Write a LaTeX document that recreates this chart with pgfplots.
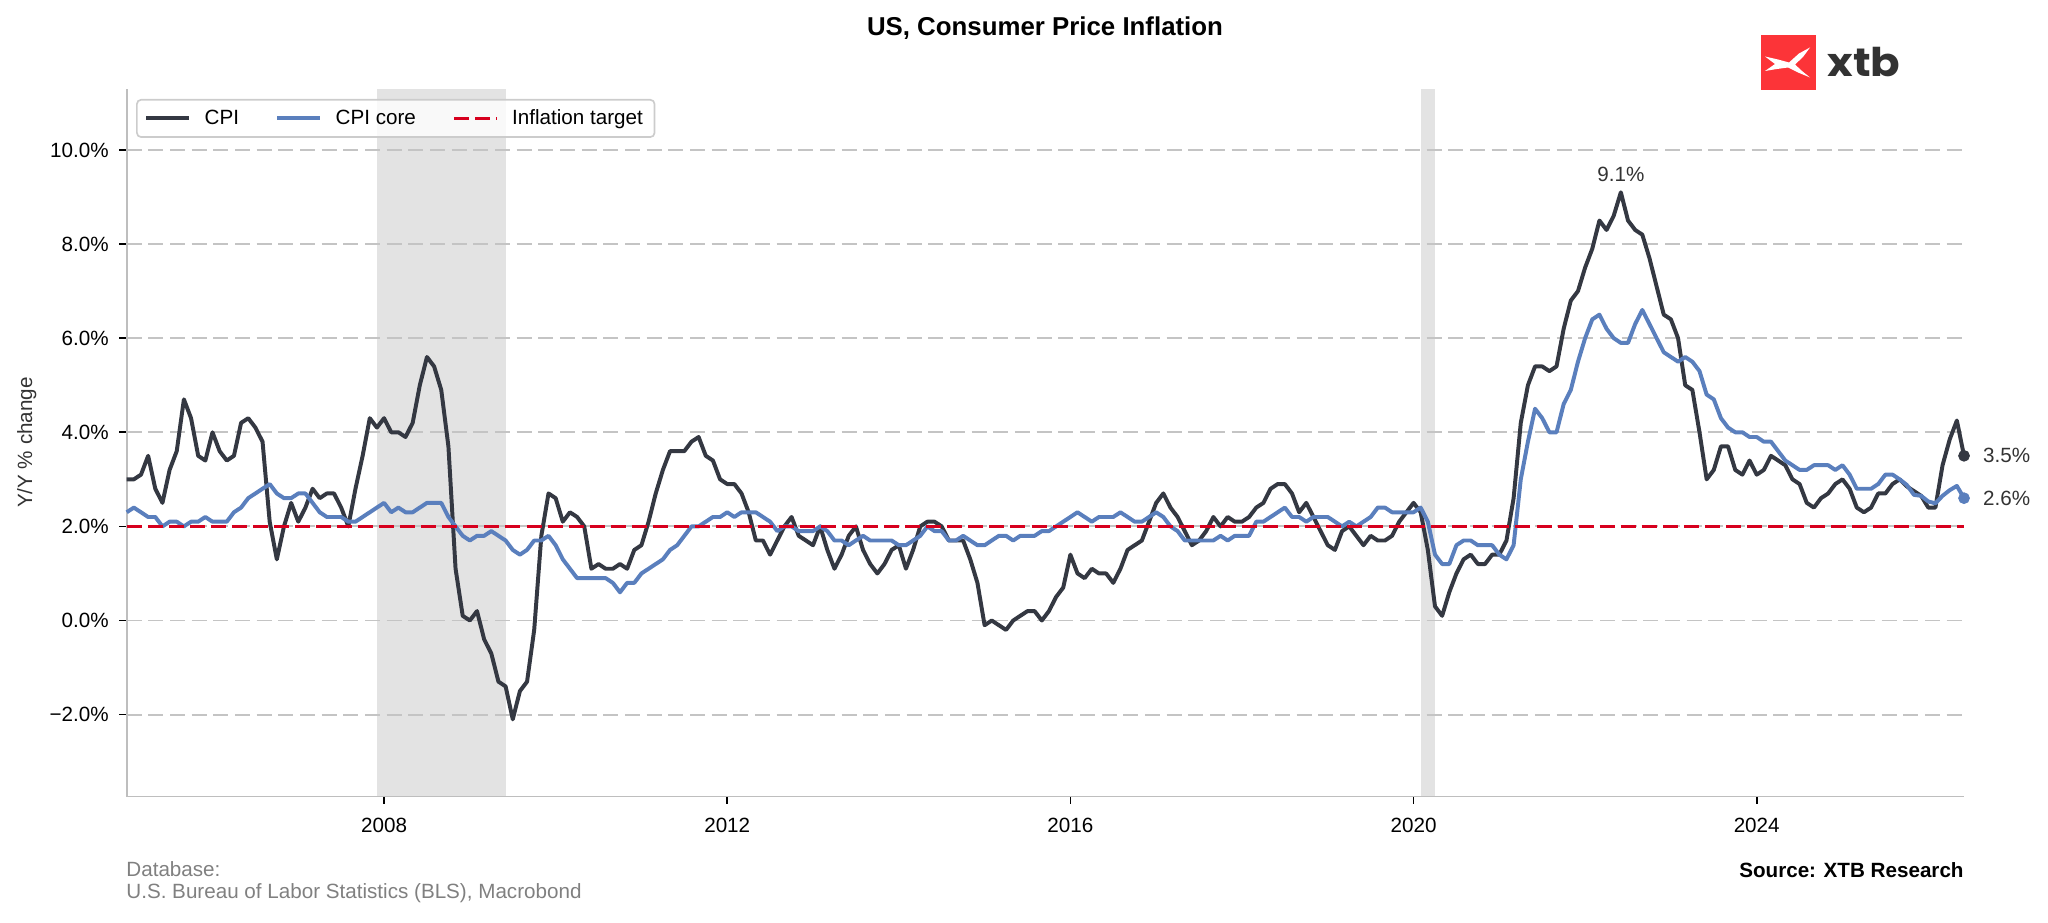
\documentclass[border=0pt]{standalone}
\usepackage{fontspec}
\setmainfont{Liberation Sans}
\newfontfamily\logofont{Poppins}
\usepackage{pgfplots}
\usepackage{pgfplotstable}
\pgfplotsset{compat=1.18}
\pgfplotsset{shortlegend/.style={legend image code/.code={\draw[##1] (0pt,0pt) -- (17.4pt,0pt); \path (0pt,0pt) -- (20.5pt,0pt);}}}

\definecolor{cpiC}{RGB}{52,56,66}
\definecolor{coreC}{RGB}{90,127,189}
\definecolor{redC}{RGB}{215,0,30}
\definecolor{spanC}{RGB}{227,227,227}
\definecolor{gridC}{RGB}{196,196,196}
\definecolor{spineC}{RGB}{190,190,190}
\definecolor{footC}{RGB}{128,128,128}
\definecolor{legC}{RGB}{204,204,204}
\definecolor{annC}{RGB}{51,51,51}
\definecolor{logoRed}{RGB}{252,52,56}
\definecolor{logoText}{RGB}{50,50,50}

% monthly values, Jan 2005 ... Jun 2026
\pgfplotstableread{
cpi core
3.0 2.3
3.0 2.4
3.1 2.3
3.5 2.2
2.8 2.2
2.5 2.0
3.2 2.1
3.6 2.1
4.7 2.0
4.3 2.1
3.5 2.1
3.4 2.2
4.0 2.1
3.6 2.1
3.4 2.1
3.5 2.3
4.2 2.4
4.3 2.6
4.1 2.7
3.8 2.8
2.1 2.9
1.3 2.7
2.0 2.6
2.5 2.6
2.1 2.7
2.4 2.7
2.8 2.5
2.6 2.3
2.7 2.2
2.7 2.2
2.4 2.2
2.0 2.1
2.8 2.1
3.5 2.2
4.3 2.3
4.1 2.4
4.3 2.5
4.0 2.3
4.0 2.4
3.9 2.3
4.2 2.3
5.0 2.4
5.6 2.5
5.4 2.5
4.9 2.5
3.7 2.2
1.1 2.0
0.1 1.8
0.0 1.7
0.2 1.8
-0.4 1.8
-0.7 1.9
-1.3 1.8
-1.4 1.7
-2.1 1.5
-1.5 1.4
-1.3 1.5
-0.2 1.7
1.8 1.7
2.7 1.8
2.6 1.6
2.1 1.3
2.3 1.1
2.2 0.9
2.0 0.9
1.1 0.9
1.2 0.9
1.1 0.9
1.1 0.8
1.2 0.6
1.1 0.8
1.5 0.8
1.6 1.0
2.1 1.1
2.7 1.2
3.2 1.3
3.6 1.5
3.6 1.6
3.6 1.8
3.8 2.0
3.9 2.0
3.5 2.1
3.4 2.2
3.0 2.2
2.9 2.3
2.9 2.2
2.7 2.3
2.3 2.3
1.7 2.3
1.7 2.2
1.4 2.1
1.7 1.9
2.0 2.0
2.2 2.0
1.8 1.9
1.7 1.9
1.6 1.9
2.0 2.0
1.5 1.9
1.1 1.7
1.4 1.7
1.8 1.6
2.0 1.7
1.5 1.8
1.2 1.7
1.0 1.7
1.2 1.7
1.5 1.7
1.6 1.6
1.1 1.6
1.5 1.7
2.0 1.8
2.1 2.0
2.1 1.9
2.0 1.9
1.7 1.7
1.7 1.7
1.7 1.8
1.3 1.7
0.8 1.6
-0.1 1.6
0.0 1.7
-0.1 1.8
-0.2 1.8
0.0 1.7
0.1 1.8
0.2 1.8
0.2 1.8
0.0 1.9
0.2 1.9
0.5 2.0
0.7 2.1
1.4 2.2
1.0 2.3
0.9 2.2
1.1 2.1
1.0 2.2
1.0 2.2
0.8 2.2
1.1 2.3
1.5 2.2
1.6 2.1
1.7 2.1
2.1 2.2
2.5 2.3
2.7 2.2
2.4 2.0
2.2 1.9
1.9 1.7
1.6 1.7
1.7 1.7
1.9 1.7
2.2 1.7
2.0 1.8
2.2 1.7
2.1 1.8
2.1 1.8
2.2 1.8
2.4 2.1
2.5 2.1
2.8 2.2
2.9 2.3
2.9 2.4
2.7 2.2
2.3 2.2
2.5 2.1
2.2 2.2
1.9 2.2
1.6 2.2
1.5 2.1
1.9 2.0
2.0 2.1
1.8 2.0
1.6 2.1
1.8 2.2
1.7 2.4
1.7 2.4
1.8 2.3
2.1 2.3
2.3 2.3
2.5 2.3
2.3 2.4
1.5 2.1
0.3 1.4
0.1 1.2
0.6 1.2
1.0 1.6
1.3 1.7
1.4 1.7
1.2 1.6
1.2 1.6
1.4 1.6
1.4 1.4
1.7 1.3
2.6 1.6
4.2 3.0
5.0 3.8
5.4 4.5
5.4 4.3
5.3 4.0
5.4 4.0
6.2 4.6
6.8 4.9
7.0 5.5
7.5 6.0
7.9 6.4
8.5 6.5
8.3 6.2
8.6 6.0
9.1 5.9
8.5 5.9
8.3 6.3
8.2 6.6
7.7 6.3
7.1 6.0
6.5 5.7
6.4 5.6
6.0 5.5
5.0 5.6
4.9 5.5
4.0 5.3
3.0 4.8
3.2 4.7
3.7 4.3
3.7 4.1
3.2 4.0
3.1 4.0
3.4 3.9
3.1 3.9
3.2 3.8
3.5 3.8
3.4 3.6
3.3 3.4
3.0 3.3
2.9 3.2
2.5 3.2
2.4 3.3
2.6 3.3
2.7 3.3
2.9 3.2
3.0 3.3
2.8 3.1
2.4 2.8
2.3 2.8
2.4 2.8
2.7 2.9
2.7 3.1
2.9 3.1
3.0 3.0
2.85 2.88
2.75 2.67
2.65 2.65
2.4 2.53
2.4 2.49
3.3 2.65
3.85 2.77
4.25 2.86
3.5 2.6
}\cpidata

\begin{document}
\begin{tikzpicture}
\begin{axis}[
  at={(60.82pt,400.42pt)}, anchor=north west,
  scale only axis, width=881.9pt, height=339.7pt,
  xmin=2005, xmax=2026.4167, ymin=-3.74, ymax=11.3,
  set layers, clip=false,
  axis x line*=bottom, axis y line*=left,
  xtick pos=bottom, ytick pos=left,
  axis line style={draw=spineC, line width=0.8pt, -},
  tick align=outside, major tick length=3.5pt,
  tick style={draw=black, line width=0.8pt},
  xtick={2008,2012,2016,2020,2024},
  xticklabels={2008,2012,2016,2020,2024},
  ytick={-2,0,2,4,6,8,10},
  yticklabels={−2.0\%,0.0\%,2.0\%,4.0\%,6.0\%,8.0\%,10.0\%},
  minor tick num=0,
  ymajorgrids,
  major grid style={draw=gridC, line width=0.9pt, dash pattern=on 7.2pt off 3.2pt},
  tick label style={font=\fontsize{9.9}{12}\selectfont, text=black},
  xticklabel style={anchor=north, inner sep=0pt, yshift=-6.5pt},
  yticklabel style={anchor=east, inner sep=0pt, xshift=-5pt},
  ylabel={Y/Y \% change},
  ylabel style={at={(axis description cs:-0.0544,0.5)}, anchor=center, font=\fontsize{9.9}{12}\selectfont, text=annC},
  legend columns=3,
  legend image code/.code={\draw[#1] (0pt,0pt) -- (20.5pt,0pt);},
  legend style={at={(axis description cs:0.0051,0.9856)}, anchor=north west,
    draw=legC, line width=0.8pt, rounded corners=2pt, fill=white, fill opacity=0.8,
    text opacity=1, draw opacity=1, inner xsep=3.6pt, inner ysep=2.6pt,
    font=\fontsize{9.9}{12}\selectfont,
    /tikz/every even column/.append style={column sep=15.5pt},
    /tikz/every odd column/.append style={column sep=4.5pt}},
]
\addplot[fill=spanC, draw=none, forget plot, on layer=axis background]
  coordinates {(2007.9167,-3.74) (2009.4167,-3.74) (2009.4167,11.3) (2007.9167,11.3)};
\addplot[fill=spanC, draw=none, forget plot, on layer=axis background]
  coordinates {(2020.0833,-3.74) (2020.25,-3.74) (2020.25,11.3) (2020.0833,11.3)};

\addplot[cpiC, line width=1.9pt, line join=round] table[x expr=2005+\coordindex/12, y=cpi] {\cpidata};
\addlegendentry{CPI}
\addplot[coreC, line width=1.9pt, line join=round] table[x expr=2005+\coordindex/12, y=core] {\cpidata};
\addlegendentry{CPI core}
\addplot[redC, line width=1.7pt, dash pattern=on 7.2pt off 2.9pt, shortlegend]
  coordinates {(2005,2) (2026.4167,2)};
\addlegendentry{Inflation target}

\addplot[only marks, mark=*, mark size=2.6pt, cpiC, forget plot] coordinates {(2026.4167,3.5)};
\addplot[only marks, mark=*, mark size=2.6pt, coreC, forget plot] coordinates {(2026.4167,2.6)};

\node[anchor=west, inner sep=0pt, xshift=9pt, text=annC, font=\fontsize{9.9}{12}\selectfont] at (axis cs:2026.4167,3.5) {3.5\%};
\node[anchor=west, inner sep=0pt, xshift=9pt, text=annC, font=\fontsize{9.9}{12}\selectfont] at (axis cs:2026.4167,2.6) {2.6\%};
\node[anchor=south, inner sep=0pt, yshift=5pt, text=annC, font=\fontsize{9.9}{12}\selectfont] at (axis cs:2022.4167,9.1) {9.1\%};
\end{axis}

\begin{scope}[x=0.48pt, y=-0.48pt, shift={(0pt,443.04pt)}]
% title
\node[anchor=base, inner sep=0pt, font=\bfseries\fontsize{12.4}{15}\selectfont] at (1045,36) {US, Consumer Price Inflation};
% footer
\node[anchor=base west, inner sep=0pt, text=footC, font=\fontsize{9.9}{12}\selectfont] at (126,877) {Database:};
\node[anchor=base west, inner sep=0pt, text=footC, font=\fontsize{9.9}{12}\selectfont] at (126,899) {U.S. Bureau of Labor Statistics (BLS), Macrobond};
\node[anchor=base east, inner sep=0pt, font=\bfseries\fontsize{9.9}{12}\selectfont] at (1964,878) {Source: XTB Research};
% logo
\fill[logoRed] (1760.5,35) rectangle (1816,90.5);
\fill[white] (1765,56.5) -- (1778,59.5) -- (1789,62.5) -- (1799,53.5) -- (1810,47.5)
  -- (1803,57) -- (1795,64.5) -- (1802,71) -- (1810,77.5) -- (1798,72.5)
  -- (1788,67.5) -- (1777,69) -- (1765,71) -- (1775,64) -- cycle;
\node[anchor=base west, inner sep=0pt, xscale=1.1, text=logoText, font=\logofont\bfseries\fontsize{19}{22}\selectfont] at (1827,76.5) {xtb};
\path (0,0) rectangle (2048,923);
\end{scope}
\end{tikzpicture}
\end{document}
